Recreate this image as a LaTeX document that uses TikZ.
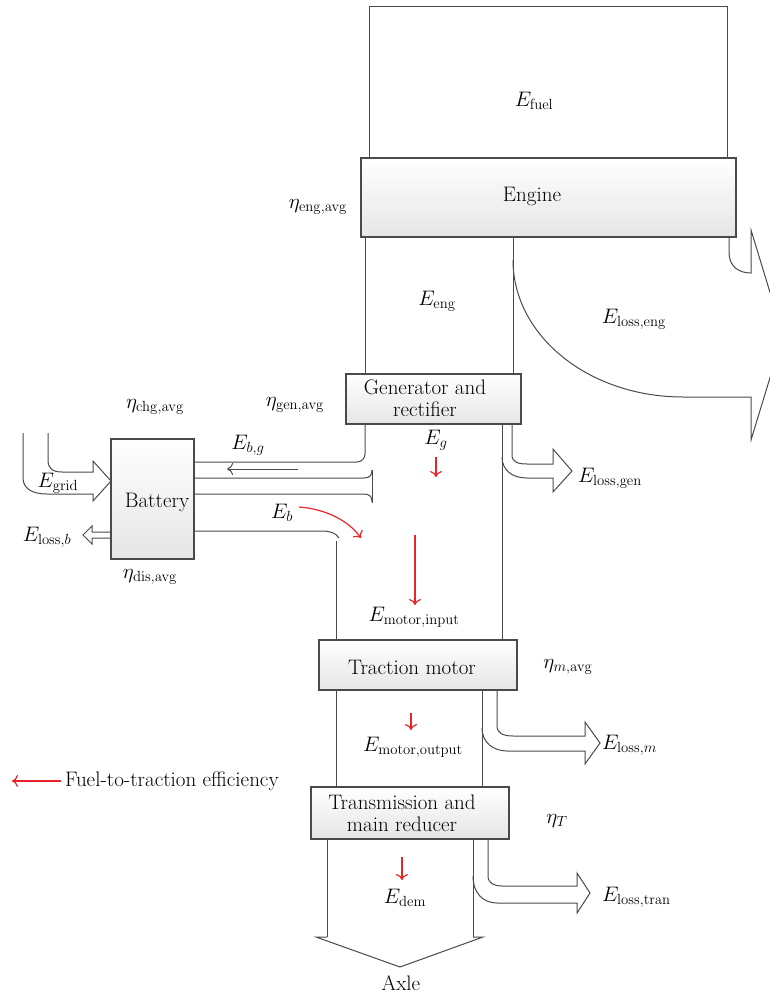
\RequirePackage{fix-cm}
\documentclass[tikz,border=0pt]{standalone}
\usetikzlibrary{arrows.meta}
\definecolor{lc}{HTML}{4A4A4A}
\definecolor{rd}{HTML}{E8262A}
\tikzset{
  every node/.style={font=\fontsize{21}{22}\selectfont, inner sep=0pt, outer sep=0pt},
  box/.style={draw=lc, line width=1.2pt, top color=white, bottom color=black!10, minimum width=#1},
  ln/.style={draw=lc, line width=1pt},
  redarr/.style={draw=rd, line width=1.2pt, -{To[length=6pt,width=12pt]}},
  lbl/.style={text=black}
}
\begin{document}
\begin{tikzpicture}[x=1pt,y=-1pt]
\useasboundingbox (0,0) rectangle (770,998);
\clip (0,0) rectangle (770,998);

% fuel box and engine
\node[draw=lc, line width=1pt, minimum width=358pt, minimum height=151pt] (fuel) at (548,82.5) {};
\node[box=375pt, minimum height=79pt] (eng) at (548.5,197.5) {};
\node[lbl] (engt) at (532,196) {Engine};
\node[lbl] (efuel) at (534,101) {$E_{\mathrm{fuel}}$};

% generator
\node[box=175pt, minimum height=50pt] (gen) at (433.5,399) {};
\node[lbl, align=center] (gent) at (425,398) {Generator and\\rectifier};

% battery
\node[box=83pt, minimum height=120pt] (bat) at (152.5,499) {};
\node[lbl] (batt) at (157,502) {Battery};

% traction motor
\node[box=198pt, minimum height=50pt] (mot) at (418,665) {};
\node[lbl] (mott) at (412,667) {Traction motor};

% transmission
\node[box=198pt, minimum height=52pt] (tra) at (410,813) {};
\node[lbl, align=center] (trat) at (402,813) {Transmission and\\main reducer};

% engine -> generator
\draw[ln] (eng.south -| 365,0) -- (gen.north -| 365,0);
\draw[ln] (eng.south -| 513,0) -- (gen.north -| 513,0);

% engine loss arrow
\draw[ln] (eng.south -| 729,0) -- (729,252) .. controls (729,266) and (738,273) .. (751,273) -- (751,230) -- (783,335) -- (751,440) -- (751,397) -- (683,397) .. controls (589,397) and (513,336) .. (513,260);

% generator -> battery (E_b,g)
\draw[ln, rounded corners=8pt] (gen.south -| 365,0) -- (365,462) -- (bat.east |- 0,462);
\draw[lc, line width=1pt, -{To[length=6pt,width=12pt]}] (298,469) coordinate (bga) -- (227,469) coordinate (bgb);

% pipe from battery
\draw[ln] (bat.east |- 0,478) -- (364,478) .. controls (370,478) and (372,475) .. (372,470);
\draw[ln] (bat.east |- 0,494) -- (364,494) .. controls (370,494) and (372,497) .. (372,502);
\draw[ln] (372,470) -- (372,503);

% battery -> motor
\draw[ln] (bat.east |- 0,531) -- (322,531) .. controls (330,531) and (336,533) .. (339,538);
\draw[ln] (336,541) -- (mot.north -| 336,0);

% generator -> motor right line
\draw[ln] (gen.south -| 502,0) -- (mot.north -| 502,0);

% generator loss
\draw[ln] (gen.south -| 512,0) -- (512,455) .. controls (512,462) and (518,464) .. (527,464) -- (553,464) -- (553,449) -- (572,471) -- (553,492) -- (553,478) -- (527,478) .. controls (512,478) and (502,470) .. (502,457);

% grid arrow
\draw[ln] (23,433) -- (23,478) .. controls (23,489) and (33,494) .. (47,494) -- (93,494) -- (93,501) -- (bat.west |- 0,481) -- (93,461) -- (93,472) -- (62,472) .. controls (52,472) and (48,468) .. (48,460) -- (48,433);

% battery loss
\draw[ln] (bat.west |- 0,532) -- (92,532) -- (92,526) -- (83,535) -- (92,544) -- (92,538) -- (bat.west |- 0,538);

% motor -> transmission
\draw[ln] (mot.south -| 336,0) -- (tra.north -| 336,0);
\draw[ln] (mot.south -| 482,0) -- (tra.north -| 482,0);

% motor loss
\draw[ln] (mot.south -| 497,0) -- (497,726) .. controls (497,733) and (503,736) .. (513,736) -- (585,736) -- (585,722) -- (600,743) -- (585,764) -- (585,751) -- (507,751) .. controls (494,751) and (482,743) .. (482,728);

% transmission -> axle
\draw[ln] (tra.south -| 327,0) -- (327,937);
\draw[ln] (tra.south -| 473,0) -- (473,937);
\draw[ln] (327,937) -- (316,937) -- (400,967) coordinate (axtip) -- (483,937) -- (473,937);

% transmission loss
\draw[ln] (tra.south -| 488,0) -- (488,876) .. controls (488,883) and (494,886) .. (502,886) -- (577,886) -- (577,873) -- (590,893) -- (577,913) -- (577,903) -- (497,903) .. controls (483,903) and (473,893) .. (473,876);

% red arrows
\draw[redarr] (436,457) coordinate (ga) -- (436,477) coordinate (gb);
\draw[redarr] (415,535) coordinate (ia) -- (415,605) coordinate (ib);
\draw[redarr] (411,713) coordinate (oa) -- (411,730) coordinate (ob);
\draw[redarr] (402,857) coordinate (da) -- (402,880) coordinate (db);
\draw[redarr] (299,507) coordinate (ba) .. controls (325,509) and (348,520) .. (361,538) coordinate (bb);
\draw[redarr] (61,781) coordinate (la) -- (12,781) coordinate (lb);

% labels
\node (etaeng) at (318,207) {$\eta_{\mathrm{eng,avg}}$};
\node (eeng) at (437,301) {$E_{\mathrm{eng}}$};
\node (elosseng) at (634,319) {$E_{\mathrm{loss,eng}}$};
\node (etagen) at (295,405) {$\eta_{\mathrm{gen,avg}}$};
\node (etachg) at (155,407) {$\eta_{\mathrm{chg,avg}}$};
\node (ebg) at (248,445) {$E_{b,g}$};
\node (egrid) at (58,483) {$E_{\mathrm{grid}}$};
\node (eg) at (436,440) {$E_{g}$};
\node[anchor=west] (elossgen) at (578,478) {$E_{\mathrm{loss,gen}}$};
\node (eb) at (282,513) {$E_{b}$};
\node (elossb) at (47,537) {$E_{\mathrm{loss},b}$};
\node (etadis) at (150,577) {$\eta_{\mathrm{dis,avg}}$};
\node (emin) at (414,617) {$E_{\mathrm{motor,input}}$};
\node (etam) at (568,667) {$\eta_{m,\mathrm{avg}}$};
\node (emout) at (413,747) {$E_{\mathrm{motor,output}}$};
\node[anchor=west] (elossm) at (602,745) {$E_{\mathrm{loss},m}$};
\node[anchor=west] (legend) at (65,781) {Fuel-to-traction efficiency};
\node (etat) at (557,821) {$\eta_{T}$};
\node (edem) at (405,898) {$E_{\mathrm{dem}}$};
\node[anchor=west] (elosstran) at (602,897) {$E_{\mathrm{loss,tran}}$};
\node (axle) at (401,983) {Axle};
\end{tikzpicture}
\end{document}
